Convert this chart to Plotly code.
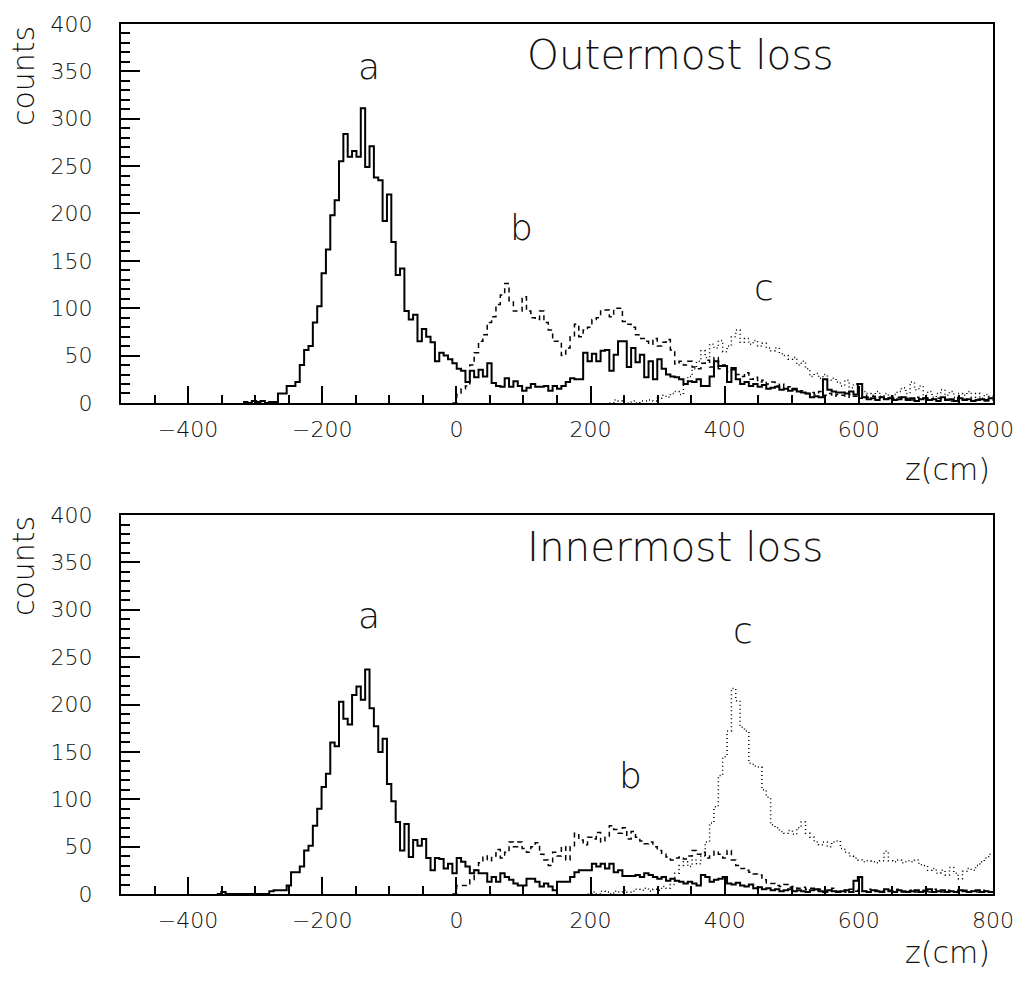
import numpy as np
import plotly.graph_objects as go

# ---------------- data ----------------
# histogram binning (cm): 200 bins from -500 to 800
z_min, z_max, n_bins = -500.0, 800.0, 200

# Outermost loss (top panel): each series = first bin index + counts per bin
top_a_start = 28
top_a = [1, 0, 2, 1, 2, 0, 1, 1,
         10, 10, 18, 18, 22, 40, 56, 60, 85, 102, 137, 162, 198, 214,
         255, 284, 260, 266, 260, 311, 249, 271, 238, 235, 192, 220, 170, 135,
         142, 97, 88, 93, 65, 78, 70, 64, 44, 53, 50, 46, 42, 36, 34, 22,
         34, 27, 35, 28, 42, 21, 18, 17, 26, 17, 23, 18, 13, 16, 20, 17, 17, 18,
         13, 18, 15, 18, 22, 26, 25, 25, 53, 44, 52, 44, 55, 56, 34, 51, 65, 65,
         38, 58, 43, 51, 27, 44, 25, 46, 36, 30, 28, 27, 25, 20, 23, 22, 25, 18,
         18, 28, 44, 39, 39, 22, 37, 25,
         20, 22, 18, 20, 17, 19, 15, 16, 17, 14, 15, 13, 15, 12, 11, 10, 6, 7, 6, 25,
         14, 12, 11, 11, 10, 12, 9, 20, 6, 4,
         5, 3, 6, 4, 5, 3, 4, 6, 3, 5, 2, 4, 5, 3, 4, 2, 6, 3, 4, 2, 5, 3, 4, 2, 3, 4, 3, 5]

top_b_start = 76
top_b = [0, 9, 15, 18, 40, 53, 65, 72, 85, 91, 104, 114, 126, 108, 97, 97, 112, 97, 90, 88,
         97, 85, 77, 65, 65, 50, 58, 70, 83, 70, 77, 80, 88, 90, 98, 98, 91, 100, 100, 86,
         83, 80, 72, 68, 65, 62, 68, 60, 64, 67, 56, 41, 44, 40, 44, 38, 36, 42, 45, 38,
         48, 36, 40, 33, 35, 30, 28, 32, 25, 27, 22, 24, 20, 22, 18, 20, 15, 17, 14, 12,
         13, 10, 11, 9, 12, 8, 10, 7, 9, 8, 6, 9, 7, 5, 8, 6, 7, 5, 6, 4,
         7, 5, 6, 4, 5, 3, 6, 4, 5, 3, 4, 5, 3, 4, 2, 5, 3, 4, 3, 2, 4, 3, 2, 3]

top_c_start = 112
top_c = [0, 3, 2, 0, 0, 2, 0, 2, 2, 3, 2, 5, 8, 6, 10, 12, 9, 20, 28, 36, 44,
         55, 48, 62, 58, 66, 54, 60, 70, 77, 64, 68, 62, 66, 60, 63, 58, 55, 58, 52,
         50, 46, 48, 40, 44, 36, 28, 31, 26, 30, 24, 26, 22, 18, 24, 16, 20, 14, 12, 10,
         8, 12, 7, 10, 6, 9, 12, 16, 10, 22, 14, 18, 8, 12, 6, 10, 14, 8, 12, 6,
         10, 8, 12, 6, 10, 5, 9, 7]

# Innermost loss (bottom panel)
bot_a_start = 22
bot_a = [0, 2, 0, 0, 0, 0, 0, 0, 0, 0, 0, 0,
         3, 4, 4, 4, 9, 23, 23, 29, 46, 51, 72, 90, 113, 127, 160, 156, 203, 185,
         179, 210, 219, 205, 237, 196, 177, 150, 164, 116, 98, 76, 46, 74, 39, 57,
         51, 58, 38, 25, 38, 37, 27, 32, 22, 38, 34, 29, 22, 25, 22, 22, 13, 18,
         13, 22, 18, 15, 11, 9, 9, 16, 16, 13, 8, 11, 8, 4, 13, 13, 13, 18, 23, 25,
         25, 25, 32, 29, 32, 27, 32, 23, 25, 19, 19, 19, 20, 18, 22, 20, 18, 16, 18,
         14, 16, 14, 13, 11, 13, 11, 9, 20, 18, 13, 15, 16, 18, 11, 10, 12, 9, 8, 10,
         6, 7, 5, 6, 4, 5, 3, 4, 5, 3, 4, 3, 2, 4, 5, 3, 2, 4, 3, 2, 3, 4, 2, 14, 18,
         3, 2, 4, 3, 2, 5, 3, 2, 4, 3, 2, 3, 4, 2, 3, 5, 2, 3, 4, 2, 3, 2, 4, 3, 2, 3, 4, 2, 3, 2]

bot_b_start = 76
bot_b = [0, 9, 9, 9, 15, 25, 33, 40, 35, 40, 47, 38, 44, 55, 50, 55, 48, 44, 50, 54,
         42, 36, 30, 44, 40, 50, 36, 50, 64, 57, 52, 60, 58, 65, 55, 60, 72, 68, 64, 70,
         58, 66, 60, 56, 53, 55, 50, 46, 42, 39, 36, 38, 39, 37, 40, 46, 42, 44, 38, 40,
         45, 42, 38, 46, 36, 30, 27, 25, 23, 21, 20, 15, 11, 11, 9, 8, 10, 7, 8, 6,
         7, 5, 6, 4,
         5, 3, 4, 6, 3, 4, 2, 5, 3, 4, 3, 5, 2, 4, 3, 2, 4, 3, 5, 2,
         3, 4, 2, 3, 4, 2, 5, 3, 2, 4, 3, 2, 3, 4, 2, 3, 2, 4, 3, 2]

bot_c_start = 107
bot_c = [0, 2, 0, 3, 2, 0, 3, 2, 4, 2,
         3, 5, 4, 6, 3, 5, 4, 8, 6, 10,
         22, 30, 34, 29, 36, 32, 40, 55, 75, 92,
         125, 145, 172, 217, 204, 176, 172, 138, 135, 134,
         110, 102, 73, 70, 66, 64, 67, 63, 70, 76,
         64, 60, 55, 52, 55, 50, 55, 56, 48, 44,
         40, 38, 36, 34, 35, 34, 33, 35, 45, 35,
         34, 36, 33, 35, 34, 36, 31, 30, 25, 27,
         22, 25, 20, 28, 22, 16, 24, 27, 25, 30,
         34, 38, 42]

panel_titles = ["Outermost loss", "Innermost loss"]
peak_labels = ["a", "b", "c"]
y_label = "counts"
x_label = "z(cm)"

# ---------------- figure ----------------
edges = np.linspace(z_min, z_max, n_bins + 1)


def step_xy(start, counts):
    c = np.asarray(counts, dtype=float)
    n = min(len(c), n_bins - start)
    c = c[:n]
    x = edges[start:start + n + 1]
    y = np.append(c, c[-1])
    return x, y


W, H = 1026, 983
L, R, T, B = 121, 29, 17, 89
plot_w = W - L - R
plot_h = H - T - B


def py(p):  # pixel row -> paper y
    return (H - B - p) / plot_h


def px(p):  # pixel column -> paper x
    return (p - L) / plot_w


styles = {
    "a": dict(color="black", width=2, dash="solid"),
    "b": dict(color="black", width=1.5, dash="5px,4px"),
    "c": dict(color="black", width=1.5, dash="1px,3px"),
}

fig = go.Figure()
panels = [
    ("x", "y", [(top_a_start, top_a, "a"), (top_b_start, top_b, "b"), (top_c_start, top_c, "c")]),
    ("x2", "y2", [(bot_a_start, bot_a, "a"), (bot_b_start, bot_b, "b"), (bot_c_start, bot_c, "c")]),
]
for xa, ya, series in panels:
    for start, counts, key in series:
        x, y = step_xy(start, counts)
        fig.add_trace(go.Scatter(x=x, y=y, mode="lines", line_shape="hv",
                                 line=styles[key], xaxis=xa, yaxis=ya,
                                 showlegend=False, hoverinfo="skip"))

txt_col = "#111"
tick_font = dict(family="DejaVu Sans", size=22, color=txt_col, weight=200)
common_x = dict(range=[z_min, z_max], tick0=0, dtick=200, ticks="inside", ticklen=17,
                tickwidth=1.5, tickcolor="black", showline=True, linewidth=2,
                linecolor="black", mirror=True, showgrid=False, zeroline=False,
                tickfont=tick_font, ticklabelstandoff=6,
                minor=dict(tick0=0, dtick=50, ticks="inside", ticklen=8,
                           tickwidth=1.5, tickcolor="black", showgrid=False))
common_y = dict(range=[0, 400], tick0=0, dtick=50, ticks="inside", ticklen=19,
                tickwidth=1.5, tickcolor="black", showline=True, linewidth=2,
                linecolor="black", mirror=True, showgrid=False, zeroline=False,
                tickfont=tick_font, ticklabelstandoff=22,
                minor=dict(tick0=0, dtick=10, ticks="inside", ticklen=9,
                           tickwidth=1.5, tickcolor="black", showgrid=False))

top_dom = [py(399), 1.0]
bot_dom = [0.0, py(512)]

fig.update_layout(
    width=W, height=H,
    margin=dict(l=L, r=R, t=T, b=B, pad=0),
    paper_bgcolor="white", plot_bgcolor="white",
    xaxis=dict(common_x, domain=[0, 1], anchor="y"),
    yaxis=dict(common_y, domain=top_dom, anchor="x"),
    xaxis2=dict(common_x, domain=[0, 1], anchor="y2"),
    yaxis2=dict(common_y, domain=bot_dom, anchor="x2"),
)

big_font = dict(family="DejaVu Sans", size=40.5, color=txt_col, weight=200)
lab_font = dict(family="DejaVu Sans", size=36, color=txt_col, weight=200)
ax_font = dict(family="DejaVu Sans", size=30, color=txt_col, weight=200)

ann = []
# panel titles
ann.append(dict(text=panel_titles[0], x=px(527), y=py(48), xanchor="left", yanchor="middle", font=big_font))
ann.append(dict(text=panel_titles[1], x=px(527), y=py(544), xanchor="left", yanchor="middle", font=big_font))
# peak labels
for (cx, cy), t in zip([(370, 60), (523, 222), (767, 283)], peak_labels):
    ann.append(dict(text=t, x=px(cx), y=py(cy), xanchor="center", yanchor="middle", font=lab_font))
for (cx, cy), t in zip([(370, 613), (633, 775), (746, 628)], peak_labels):
    ann.append(dict(text=t, x=px(cx), y=py(cy), xanchor="center", yanchor="middle", font=lab_font))
# axis labels
for cy in (69, 563):
    ann.append(dict(text=y_label, x=px(23), y=py(cy), xanchor="center", yanchor="middle",
                    textangle=-90, font=ax_font))
for cy in (466, 953):
    ann.append(dict(text=x_label, x=px(951), y=py(cy), xanchor="center", yanchor="middle", font=ax_font))

for a in ann:
    a.update(xref="paper", yref="paper", showarrow=False)
fig.update_layout(annotations=ann)

fig.write_html("out.html")
